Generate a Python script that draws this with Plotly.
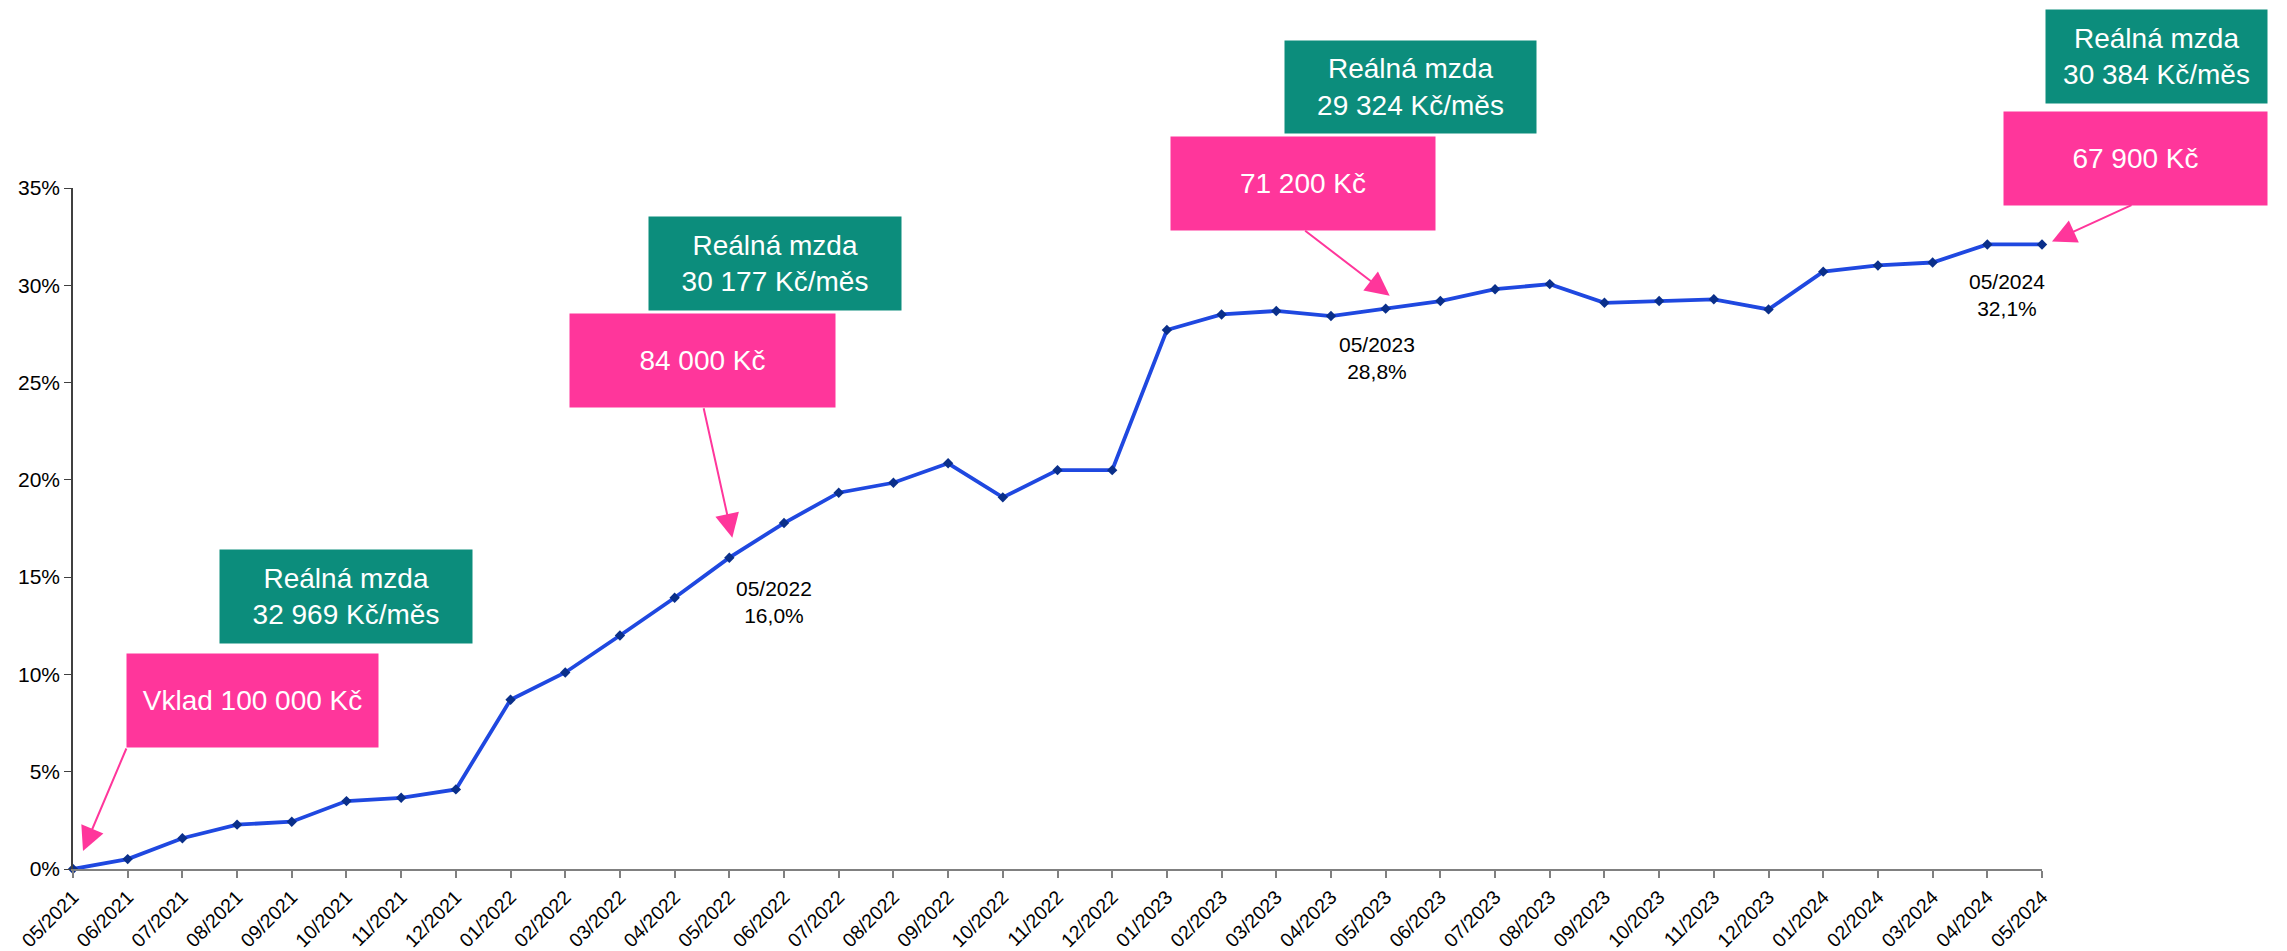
import plotly.graph_objects as go

# ---------------- data ----------------
months = ["05/2021", "06/2021", "07/2021", "08/2021", "09/2021", "10/2021", "11/2021", "12/2021",
          "01/2022", "02/2022", "03/2022", "04/2022", "05/2022", "06/2022", "07/2022", "08/2022",
          "09/2022", "10/2022", "11/2022", "12/2022", "01/2023", "02/2023", "03/2023", "04/2023",
          "05/2023", "06/2023", "07/2023", "08/2023", "09/2023", "10/2023", "11/2023", "12/2023",
          "01/2024", "02/2024", "03/2024", "04/2024", "05/2024"]
returns_pct = [0.0, 0.51, 1.58, 2.28, 2.43, 3.49, 3.66, 4.09,
               8.7, 10.1, 12.0, 13.94, 16.0, 17.78, 19.34, 19.85,
               20.85, 19.1, 20.5, 20.5, 27.7, 28.5, 28.68, 28.42,
               28.8, 29.19, 29.8, 30.06, 29.1, 29.19, 29.28, 28.76,
               30.7, 31.02, 31.17, 32.1, 32.1]
y_ticks = [0, 5, 10, 15, 20, 25, 30, 35]

deposit_labels = ["Vklad 100 000 Kč", "84 000 Kč", "71 200 Kč", "67 900 Kč"]
deposit_months = ["05/2021", "05/2022", "05/2023", "05/2024"]
wage_labels = ["Reálná mzda<br>32 969 Kč/měs", "Reálná mzda<br>30 177 Kč/měs",
               "Reálná mzda<br>29 324 Kč/měs", "Reálná mzda<br>30 384 Kč/měs"]
point_labels = ["05/2022<br>16,0%", "05/2023<br>28,8%", "05/2024<br>32,1%"]
point_label_months = ["05/2022", "05/2023", "05/2024"]

# ---------------- layout geometry (page pixels) ----------------
W, H = 2287, 951
PL, PR, PT, PB = 73, 2042, 188, 869  # plot area edges on the page

PINK = "#FF369B"
TEAL = "#0C8D7C"
FONT = "Arial, Liberation Sans, sans-serif"


def px_x(px):
    return (px - PL) / (PR - PL)


def px_y(py):
    return (PB - py) / (PB - PT)


xs = list(range(len(months)))

fig = go.Figure()
fig.add_trace(go.Scatter(
    x=xs, y=returns_pct, mode="lines+markers",
    line=dict(color="#1F48E0", width=3.8),
    marker=dict(symbol="diamond", size=8, color="#0A2F8A"),
    hoverinfo="skip", showlegend=False, cliponaxis=False,
))

annotations = []

pink_boxes = [(127, 378, 654, 747), (570, 835, 314, 407), (1171, 1435, 137, 230), (2004, 2267, 112, 205)]
teal_boxes = [(220, 472, 550, 643), (649, 901, 217, 310), (1285, 1536, 41, 133), (2046, 2267, 10, 103)]

for lab, (x0, x1, y0, y1) in zip(deposit_labels, pink_boxes):
    annotations.append(dict(
        xref="paper", yref="paper", x=px_x((x0 + x1) / 2), y=px_y((y0 + y1) / 2),
        xanchor="center", yanchor="middle", text=lab, showarrow=False,
        width=x1 - x0, height=y1 - y0, bgcolor=PINK, borderpad=0,
        font=dict(family=FONT, size=28, color="white"),
    ))
for lab, (x0, x1, y0, y1) in zip(wage_labels, teal_boxes):
    annotations.append(dict(
        xref="paper", yref="paper", x=px_x((x0 + x1) / 2), y=px_y((y0 + y1) / 2),
        xanchor="center", yanchor="middle", text=lab, showarrow=False,
        width=x1 - x0, height=y1 - y0, bgcolor=TEAL, borderpad=0,
        font=dict(family=FONT, size=28, color="white"),
    ))

# arrows from deposit boxes to data points (tip shift, tail offset in px)
arrow_geom = [(10, 18, 44, -104), (3, 20, -29, -131), (4, 13, -86, -66), (10, 3, 81, -37)]
for m, (xs_, ys_, ax, ay) in zip(deposit_months, arrow_geom):
    i = months.index(m)
    annotations.append(dict(
        x=i, y=returns_pct[i], xref="x", yref="y", text="", showarrow=True,
        xshift=xs_, yshift=ys_, ax=ax, ay=ay, axref="pixel", ayref="pixel",
        arrowhead=2, arrowsize=2.4, arrowwidth=2, arrowcolor=PINK, standoff=0,
    ))

# point labels
label_shift = [(45, -44), (-9, -49), (-35, -51)]
for lab, m, (dx, dy) in zip(point_labels, point_label_months, label_shift):
    i = months.index(m)
    annotations.append(dict(
        x=i, y=returns_pct[i], xref="x", yref="y", text=lab, showarrow=False,
        xshift=dx, yshift=dy, xanchor="center", yanchor="middle",
        font=dict(family=FONT, size=21, color="black"),
    ))

fig.update_layout(
    width=W, height=H,
    margin=dict(l=PL, r=W - PR, t=PT, b=H - PB, pad=0, autoexpand=False),
    paper_bgcolor="white", plot_bgcolor="white",
    font=dict(family=FONT, size=21, color="black"),
    annotations=annotations,
    xaxis=dict(
        range=[0, len(months) - 1], tickmode="array", tickvals=xs, ticktext=months,
        tickangle=-45, ticks="outside", ticklen=7, tickcolor="#808080", tickwidth=1.5,
        showline=True, linecolor="#808080", linewidth=2, showgrid=False, zeroline=False,
        tickfont=dict(family=FONT, size=19.5, color="black"), fixedrange=True,
        automargin=False,
    ),
    yaxis=dict(
        range=[0, 35], tickmode="array", tickvals=y_ticks,
        ticktext=[f"{v}%" for v in y_ticks],
        ticks="outside", ticklen=7, tickcolor="#404040", tickwidth=1,
        showline=True, linecolor="#404040", linewidth=1.5, showgrid=False, zeroline=False,
        tickfont=dict(family=FONT, size=21, color="black"), fixedrange=True,
        automargin=False,
    ),
)

fig.write_html("out.html", config={"displayModeBar": False},
               post_script="document.body.style.margin='0';document.body.style.overflow='hidden';")
